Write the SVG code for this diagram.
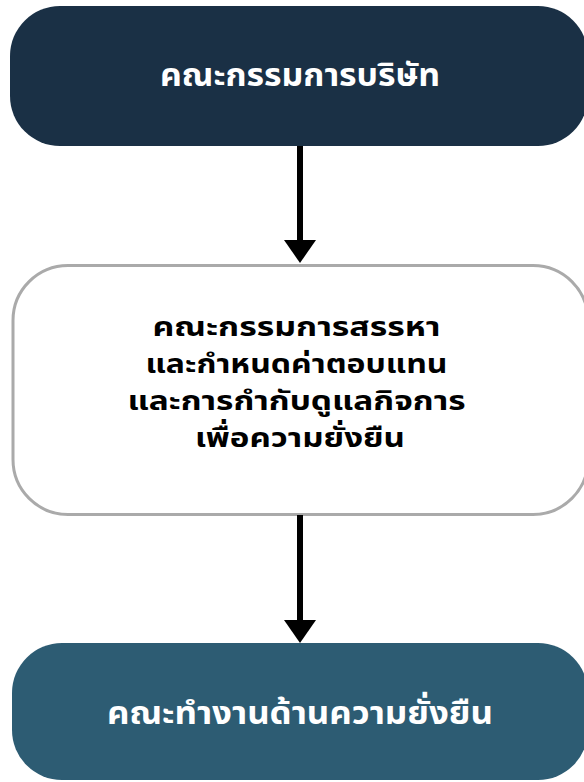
<svg xmlns="http://www.w3.org/2000/svg" width="584" height="782" viewBox="0 0 584 782">
  <defs>
    <style>
      .lbl { font-family: "Noto Sans Thai", "Noto Sans", "DejaVu Sans", sans-serif; font-weight: 700; text-anchor: middle; }
      .light { fill: #ffffff; }
      .dark { fill: #000000; }
      .conn { stroke: #000000; stroke-width: 6; fill: none; }
      .head { fill: #000000; }
    </style>
  </defs>

  <rect width="584" height="782" fill="#ffffff"/>

  <!-- board of directors -->
  <g id="board">
    <rect x="10" y="6" width="578" height="140" rx="50" ry="50" fill="#1a3045"/>
    <text class="lbl light" x="300" y="86" font-size="32" textLength="280" lengthAdjust="spacingAndGlyphs">คณะกรรมการบริษัท</text>
  </g>

  <!-- nomination, remuneration and governance committee -->
  <g id="committee">
    <rect x="13" y="265.5" width="575" height="249" rx="55" ry="55" fill="#ffffff" stroke="#aaaaaa" stroke-width="3"/>
    <text class="lbl dark" font-size="27">
      <tspan x="300" y="336" textLength="288" lengthAdjust="spacingAndGlyphs">คณะกรรมการสรรหา</tspan>
      <tspan x="300" y="373" textLength="302" lengthAdjust="spacingAndGlyphs">และกำหนดค่าตอบแทน</tspan>
      <tspan x="300" y="410" textLength="338" lengthAdjust="spacingAndGlyphs">และการกำกับดูแลกิจการ</tspan>
      <tspan x="300" y="447" textLength="210" lengthAdjust="spacingAndGlyphs">เพื่อความยั่งยืน</tspan>
    </text>
  </g>

  <!-- sustainability working group -->
  <g id="working-group">
    <rect x="12" y="643" width="576" height="137" rx="50" ry="50" fill="#2d5c73"/>
    <text class="lbl light" x="300" y="724" font-size="32" textLength="386" lengthAdjust="spacingAndGlyphs">คณะทำงานด้านความยั่งยืน</text>
  </g>

  <!-- connectors -->
  <g id="connectors">
    <line class="conn" x1="300" y1="146" x2="300" y2="242"/>
    <polygon class="head" points="284,240 316,240 300,263"/>
    <line class="conn" x1="300" y1="515" x2="300" y2="622"/>
    <polygon class="head" points="284,620 316,620 300,643"/>
  </g>
</svg>
